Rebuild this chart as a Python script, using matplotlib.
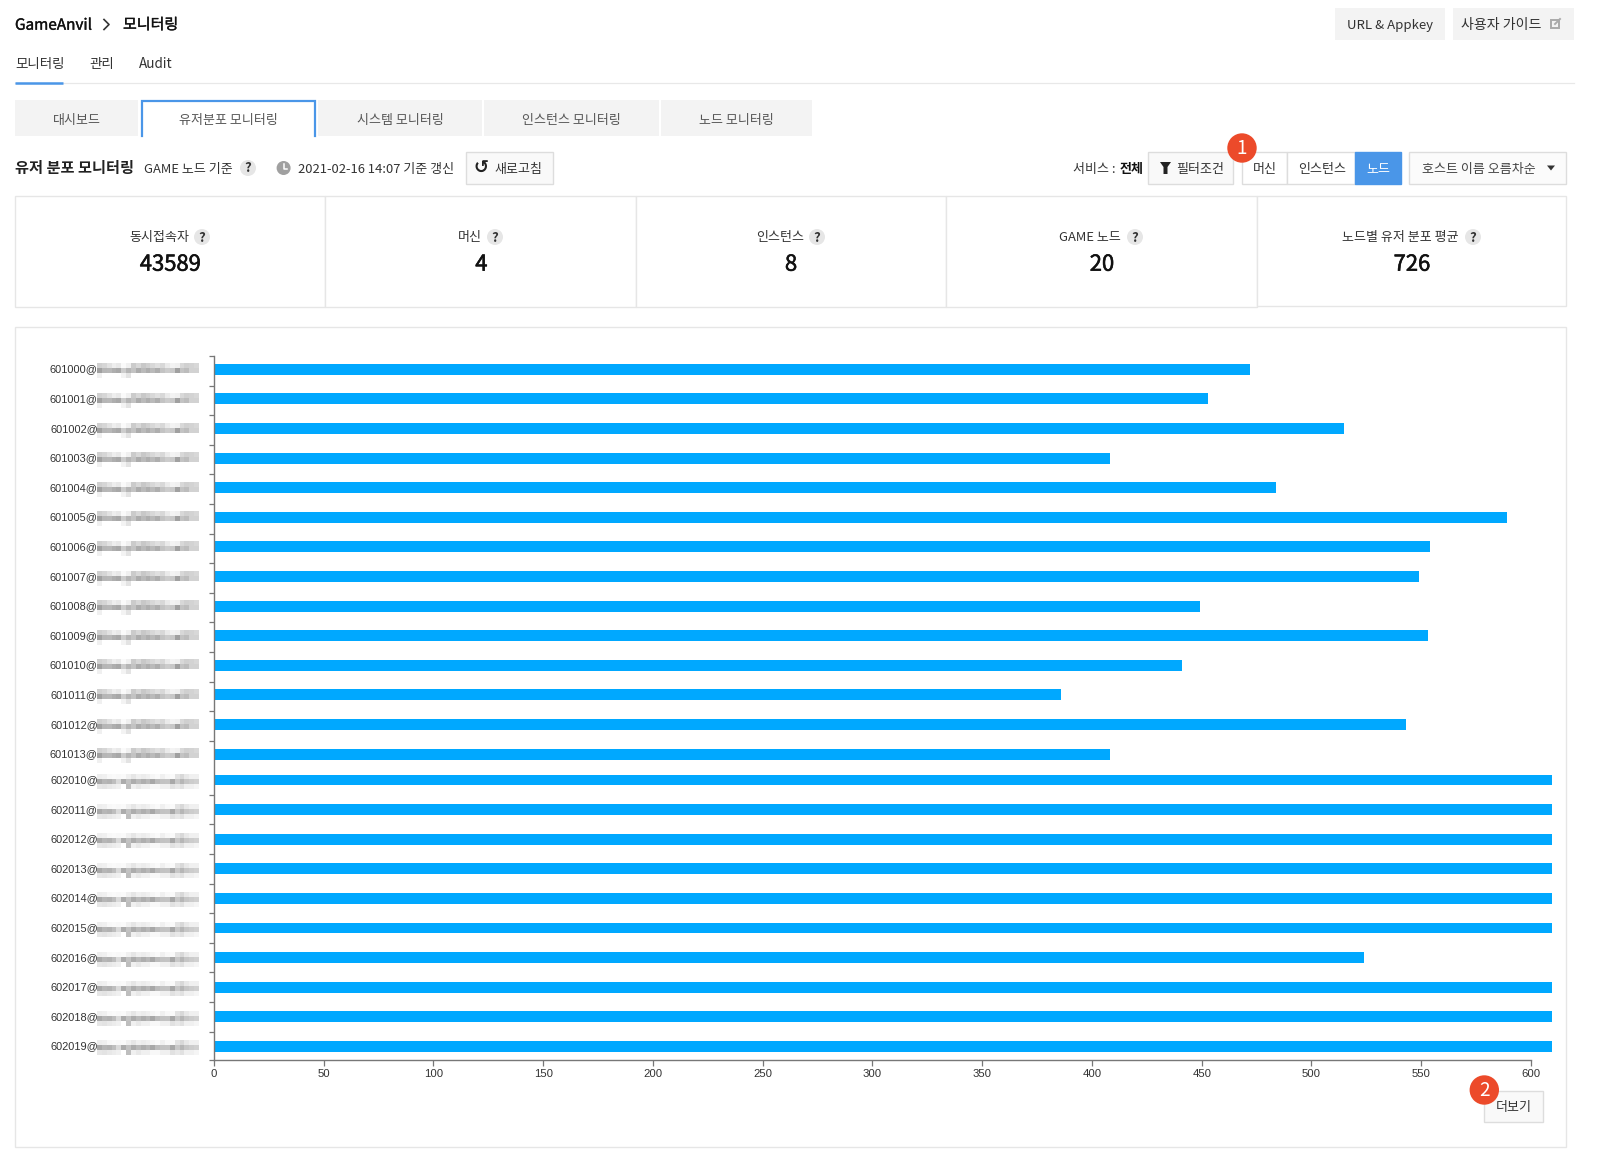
import numpy as np
import matplotlib
matplotlib.use('Agg')
import matplotlib.pyplot as plt
import matplotlib.patheffects as pe
from matplotlib.patches import Rectangle, Circle, Polygon
from matplotlib.transforms import ScaledTranslation

W, H = 1624, 1163
UI_FONT = ['Noto Sans CJK KR', 'DejaVu Sans']
plt.rcParams['font.family'] = UI_FONT

# chart data
hosts = ['601000', '601001', '601002', '601003', '601004', '601005', '601006', '601007',
         '601008', '601009', '601010', '601011', '601012', '601013', '602010', '602011',
         '602012', '602013', '602014', '602015', '602016', '602017', '602018', '602019']
users = [472, 453, 515, 408, 484, 589, 554, 549, 449, 553, 441, 386, 543, 408,
         610, 610, 610, 610, 610, 610, 524, 610, 610, 610]
x_ticks = [0, 50, 100, 150, 200, 250, 300, 350, 400, 450, 500, 550, 600]

# stat cards
card_titles = ['동시접속자', '머신', '인스턴스', 'GAME 노드', '노드별 유저 분포 평균']
card_values = ['43589', '4', '8', '20', '726']

# blurred part of the host names, grey levels
blur_a = [[208, 214, 226, 238, 232, 250, 240, 203, 216, 200, 208, 216, 224, 216, 234, 244, 240, 216, 208, 212, 216],
          [160, 182, 184, 174, 168, 204, 182, 196, 172, 186, 174, 186, 174, 196, 204, 200, 160, 196, 188, 210, 210],
          [240, 255, 255, 255, 255, 244, 228, 255, 255, 255, 255, 255, 255, 255, 255, 255, 255, 255, 255, 255, 255]]
blur_b = [[238, 240, 248, 250, 248, 250, 240, 230, 240, 236, 240, 246, 250, 240, 248, 250, 228, 216, 232, 240, 240],
          [168, 182, 178, 190, 218, 172, 194, 172, 186, 174, 184, 168, 188, 194, 196, 168, 200, 182, 198, 204, 208],
          [230, 228, 232, 236, 240, 255, 190, 240, 232, 240, 240, 248, 248, 240, 240, 225, 232, 225, 240, 240, 245]]

fig = plt.figure(figsize=(W / 100, H / 100), dpi=100)
ui = fig.add_axes([0, 0, 1, 1], zorder=0)
ui.axis('off')

GREY = '#f3f3f3'
LINE = '#e6e6e6'
BLUE = '#4a96e8'
RED = '#ec4a2a'
TEXT_DY = 1.2


def fs(px):
    return px * 0.72


def label(x, y, s, size=13, color='#444444', ha='center', stroke=0, **kw):
    t = ui.text(x, y + TEXT_DY, s, fontsize=fs(size), color=color, ha=ha, va='center', **kw)
    if stroke:
        t.set_path_effects([pe.withStroke(linewidth=stroke, foreground=color)])


def box(x0, y0, x1, y1, fc='white', ec='none', lw=1.0, zorder=1):
    ui.add_patch(Rectangle((x0, y0), x1 - x0, y1 - y0, fc=fc, ec=ec, lw=lw, zorder=zorder))


def help_mark(x, y):
    ui.add_patch(Circle((x, y), 8, fc='#e6e6e6', ec='none', zorder=2))
    ui.text(x, y + 0.5, '?', fontsize=fs(13), color='#333333', ha='center', va='center', weight='bold', zorder=3)


def badge(x, y, s):
    ui.add_patch(Circle((x, y), 14.7, fc=RED, ec='none', zorder=5))
    ui.text(x, y, s, fontsize=fs(19), color='white', ha='center', va='center', zorder=6)


# header
label(15, 24, 'GameAnvil', 15.3, '#111111', 'left', stroke=0.25)
ui.plot([104, 109, 104], [19.5, 24.5, 29.5], color='#333333', lw=1.2)
label(123, 24, '모니터링', 15, '#111111', 'left', stroke=0.25)
box(1335, 8, 1445, 40, GREY)
label(1390, 24, 'URL & Appkey', 13.2, '#333333')
box(1453, 8, 1574, 40, GREY)
label(1501, 24, '사용자 가이드', 14, '#333333')
ui.add_patch(Rectangle((1551, 20), 8, 8, fc='none', ec='#aaaaaa', lw=1.4))
ui.plot([1555, 1560], [24, 19], color='#aaaaaa', lw=1.4)

label(15, 63, '모니터링', 13.5, '#333333', 'left')
label(89, 63, '관리', 13.5, '#333333', 'left')
label(139, 63, 'Audit', 13.5, '#333333', 'left')
ui.plot([15, 1574], [83, 83], color='#e8e8e8', lw=0.9)
ui.plot([15, 63], [83, 83], color=BLUE, lw=1.8, solid_capstyle='butt')

# tab row
tab_names = ['대시보드', '유저분포 모니터링', '시스템 모니터링', '인스턴스 모니터링', '노드 모니터링']
tab_left = [15, 142.5, 318, 484, 661]
tab_right = [138.5, 315.5, 482, 659, 812]
tab_mid = [77, 228, 400, 571, 736.5]
for name, x0, x1, xm in zip(tab_names, tab_left, tab_right, tab_mid):
    if name == '유저분포 모니터링':
        ui.plot([x0, x0, x1, x1], [136, 101, 101, 136], color=BLUE, lw=1.6, solid_joinstyle='miter')
    else:
        box(x0, 100, x1, 136, GREY)
    label(xm, 119, name, 13, '#555555')

# toolbar
label(15, 167, '유저 분포 모니터링', 15.2, '#222222', 'left', weight='bold')
label(144, 168, 'GAME 노드 기준', 13, '#333333', 'left')
help_mark(248, 168)
ui.add_patch(Circle((283.6, 168), 7, fc='#a0a0a0', ec='none'))
ui.plot([283.6, 283.6, 287], [163.5, 168.5, 168.5], color='white', lw=1.1)
label(298, 168, '2021-02-16 14:07 기준 갱신', 13, '#333333', 'left')
box(466, 152, 553, 184, '#f9f9f9', '#dddddd')
ui.text(481, 168, '↺', fontsize=fs(18), color='#222222', ha='center', va='center', family='DejaVu Sans', weight='bold')
label(494, 168, '새로고침', 13, '#333333', 'left')

label(1073, 168, '서비스 :', 13, '#333333', 'left')
label(1120, 168, '전체', 13, '#111111', 'left', weight='bold')
box(1148, 152, 1233, 184, '#f9f9f9', '#dddddd')
ui.add_patch(Polygon([[1160, 162], [1171, 162], [1167.5, 167], [1167.5, 174], [1163.5, 174], [1163.5, 167]],
                     fc='#222222', ec='none'))
label(1176, 168, '필터조건', 13, '#333333', 'left')
box(1242, 152, 1287, 184, 'white', '#dddddd')
label(1265, 168, '머신', 13, '#333333')
box(1287, 152, 1355, 184, 'white', '#dddddd')
label(1322, 168, '인스턴스', 13, '#333333')
box(1355, 152, 1401, 184, BLUE, BLUE)
label(1378, 168, '노드', 13, 'white')
box(1409.5, 152, 1566.5, 184, '#fbfbfb', '#dddddd')
label(1422, 168, '호스트 이름 오름차순', 13, '#444444', 'left')
ui.add_patch(Polygon([[1547, 165.5], [1555, 165.5], [1551, 170.5]], fc='#333333', ec='none'))
badge(1242, 148, '1')

# stat cards
card_edges = [15, 325, 636, 946.5, 1257.5, 1566.5]
card_text_mid = [159, 469.5, 780, 1090, 1400]
card_help = [202, 495, 817, 1135, 1473]
card_value_mid = [170.3, 481.4, 791, 1102, 1412]
for i in range(5):
    box(card_edges[i], 196, card_edges[i + 1], 305.5 if i == 4 else 306.5, 'white', LINE)
    label(card_text_mid[i], 236.5, card_titles[i], 13, '#333333')
    help_mark(card_help[i], 237)
    label(card_value_mid[i], 263.5, card_values[i], 22, '#111111', stroke=0.4)

# chart panel
box(15, 327, 1566.5, 1146.5, 'white', LINE)

# plot area, one band of the y scale is 29.6 px
x0_px, x1_px = 214, 1552
y0_px, y1_px = 356, 1060.3
ax = fig.add_axes([x0_px / W, 1 - y1_px / H, (x1_px - x0_px) / W, (y1_px - y0_px) / H], zorder=1)
ax.patch.set_alpha(0)
band = 29.6
n_top = sum(h.startswith('601') for h in hosts)
y_pos = np.arange(len(hosts)) + 0.45
y_pos[n_top:] -= 0.126
ax.barh(y_pos, users, height=0.37, color='#00a8ff', linewidth=0)
ax.set_xlim(0, (x1_px - x0_px) / 2.195)
ax.set_ylim((y1_px - y0_px) / band, 0)

ax.set_xticks(x_ticks)
ax.set_xticklabels([str(v) for v in x_ticks], family='Liberation Sans', fontsize=fs(11.4), color='#333333')
ax.tick_params(axis='x', length=fs(5.5), width=0.9, color='#777777', pad=fs(3.5))

ax.set_yticks(y_pos)
ax.set_yticklabels([h + '@' for h in hosts], family='Liberation Sans', fontsize=fs(11), color='#333333')
ax.tick_params(axis='y', which='major', length=0, pad=fs(116))
for t in ax.get_yticklabels():
    t.set_transform(t.get_transform() + ScaledTranslation(0, 0.8 / 100, fig.dpi_scale_trans))
band_ticks = list(np.arange(n_top)) + list(y_pos[n_top:-1] + 0.5) + [ax.get_ylim()[0]]
ax.set_yticks(band_ticks, minor=True)
ax.tick_params(axis='y', which='minor', length=fs(5), width=0.9, color='#777777')

for s in ['top', 'right']:
    ax.spines[s].set_visible(False)
for s in ['left', 'bottom']:
    ax.spines[s].set_color('#777777')
    ax.spines[s].set_linewidth(1.0)
ax.spines['bottom'].set_bounds(0, 600)

# pixelated host name part
for i, yp in enumerate(y_pos):
    yc = y0_px + yp * band
    blur = blur_a if i < n_top else blur_b
    ui.imshow(np.array(blur), cmap='gray', vmin=0, vmax=255, aspect='auto', interpolation='nearest',
              extent=[97, 199, yc + 9, yc - 6], zorder=2)

# more button
box(1484, 1090.5, 1543, 1121.5, '#f9f9f9', '#dddddd')
label(1514, 1106, '더보기', 13, '#333333')
badge(1484.3, 1090, '2')

ui.set_xlim(0, W)
ui.set_ylim(H, 0)
fig.savefig('out.png', dpi=100, facecolor='white')
